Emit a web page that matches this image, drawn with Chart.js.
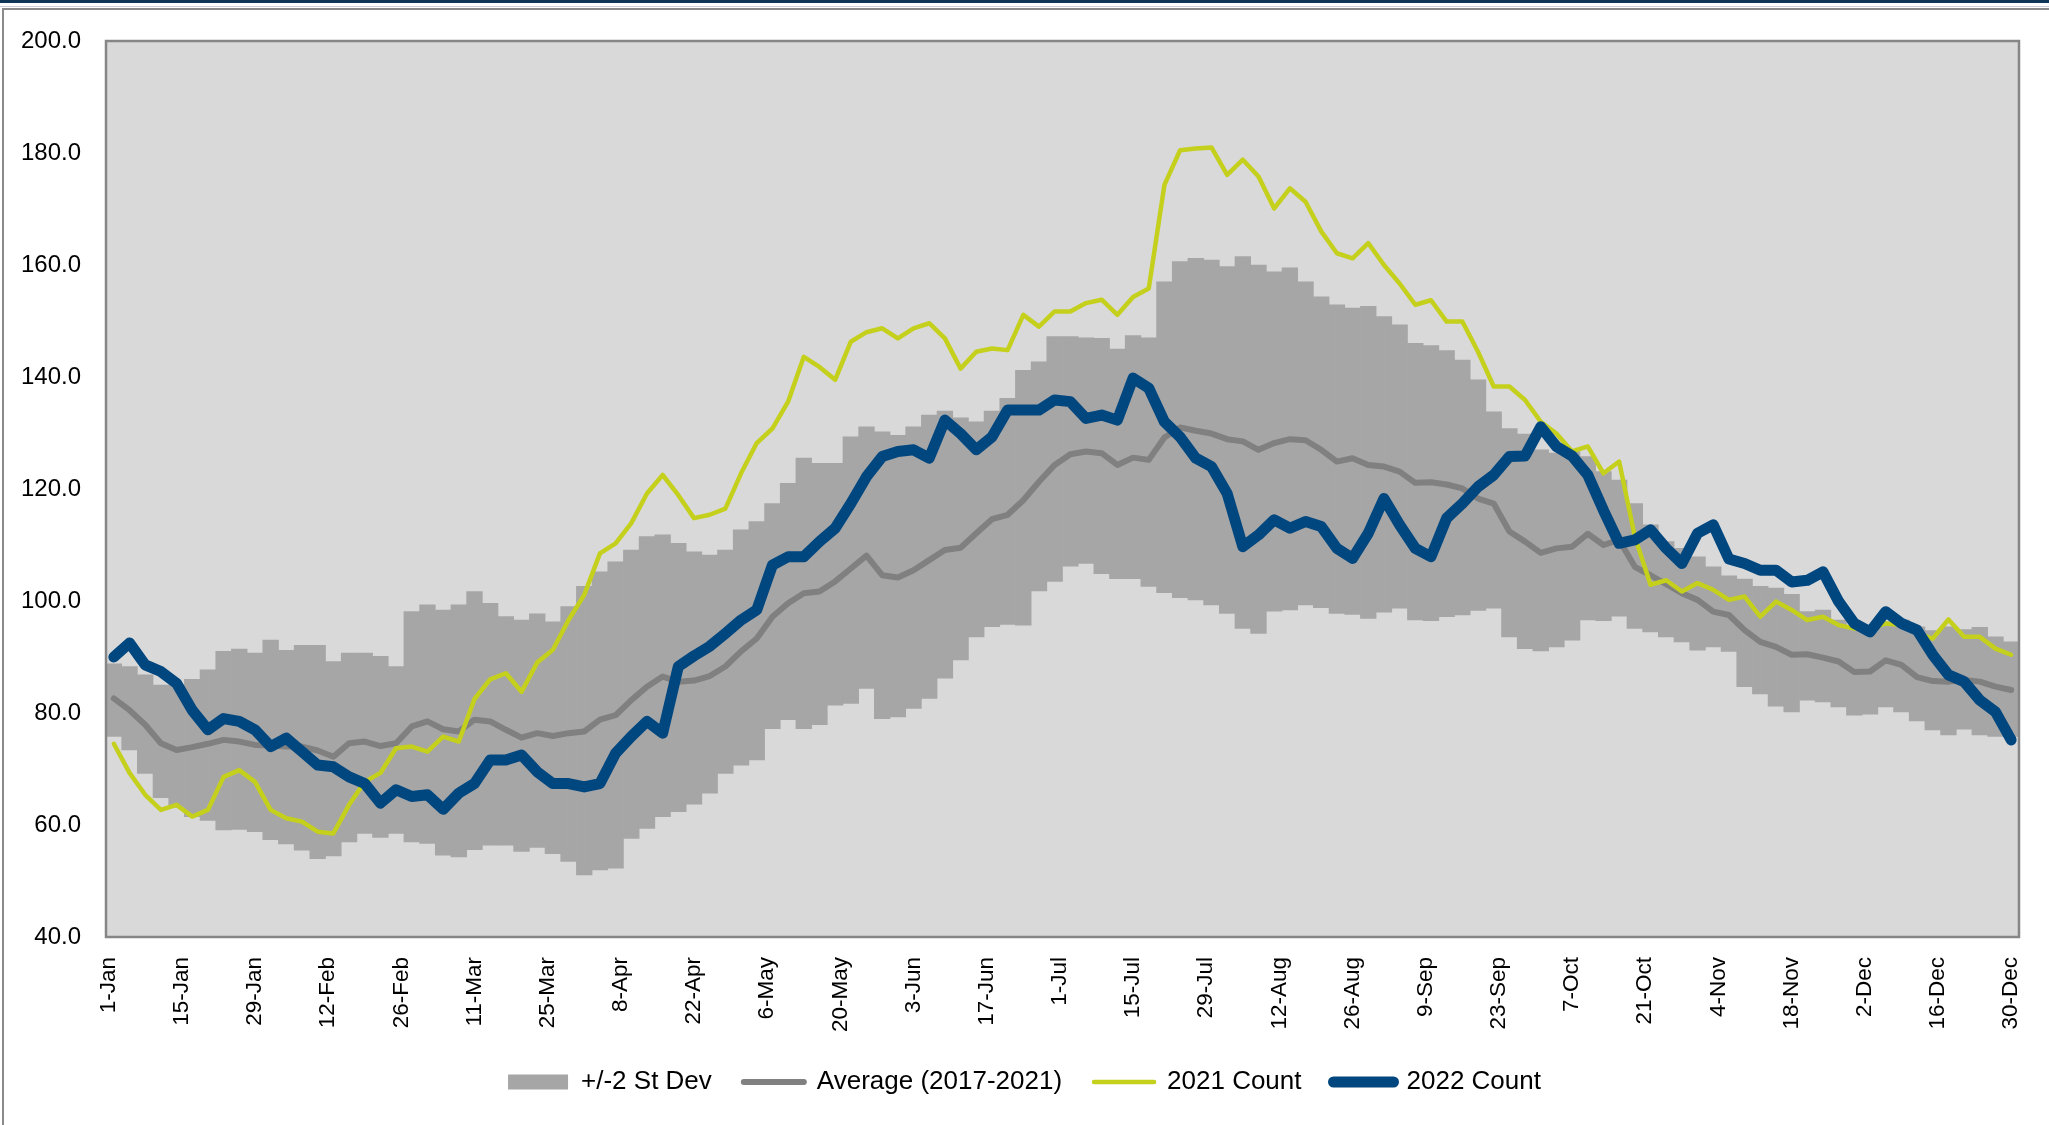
<!DOCTYPE html>
<html>
<head>
<meta charset="utf-8">
<title>Daily count against the 2017-2021 range</title>
<script src="https://cdn.jsdelivr.net/npm/chart.js@4.4.1/dist/chart.umd.min.js"></script>
<style>
  html, body { margin: 0; padding: 0; background: #fff; }
  #wrap { position: relative; width: 2049px; height: 1125px; overflow: hidden; }
  #topbar { position: absolute; left: 0; top: 0; width: 2049px; height: 3px; background: #0e3555; }
  #topline { position: absolute; left: 0; top: 6px; width: 2049px; height: 1px; background: #d0d0d0; }
  #frame { position: absolute; left: 2px; top: 8px; right: 0; bottom: 0;
           border-top: 2px solid #8a8a8a; border-left: 2px solid #8a8a8a; }
  #countChart { position: absolute; left: 0; top: 0; }
</style>
</head>
<body>
<div id="wrap">
  <div id="topbar"></div>
  <div id="topline"></div>
  <div id="frame"></div>
  <canvas id="countChart" width="2049" height="1125"></canvas>
</div>
<script>
const FONT = "'Liberation Sans', Arial, sans-serif";

// day index in a leap-year calendar (0 = 1-Jan), one reading every 3 days
const FIRST_DAY = 1;
const STEP = 3;
const TICK_EVERY = 14;

const TICK_LABELS = ['1-Jan', '15-Jan', '29-Jan', '12-Feb', '26-Feb', '11-Mar', '25-Mar', '8-Apr', '22-Apr',
  '6-May', '20-May', '3-Jun', '17-Jun', '1-Jul', '15-Jul', '29-Jul', '12-Aug', '26-Aug', '9-Sep', '23-Sep',
  '7-Oct', '21-Oct', '4-Nov', '18-Nov', '2-Dec', '16-Dec', '30-Dec'];

const BAND_LOW = [
  75.8, 73.4, 69.2, 64.9, 63.2, 61.5, 60.8, 59.1, 59.2, 58.8, 57.4, 56.6, 55.5, 54.0, 54.5, 57.0, 58.5, 57.8, 58.5, 57.0,
  56.7, 54.6, 54.3, 55.6, 56.4, 56.4, 55.3, 56.0, 54.9, 53.5, 51.1, 52.0, 52.3, 57.6, 59.4, 61.5, 62.4, 63.7, 65.7, 69.2, 70.7, 71.6,
  77.2, 78.8, 77.2, 77.9, 81.4, 81.7, 84.4, 79.0, 79.3, 80.8, 82.6, 86.2, 89.5, 93.6, 95.4, 95.8, 95.7, 101.8, 103.5, 106.2,
  106.7, 104.9, 104.0, 104.0, 102.6, 101.5, 100.6, 100.2, 99.3, 97.8, 95.1, 94.2, 98.2, 98.4, 99.3, 98.8, 97.8, 97.6, 96.9, 98.0, 98.7,
  96.6, 96.5, 97.2, 97.5, 98.3, 98.7, 93.6, 91.5, 91.1, 91.8, 93.0, 96.6, 96.5, 97.3, 95.1, 94.5, 93.6, 92.7, 91.2, 91.8, 91.0,
  84.7, 83.4, 81.2, 80.2, 82.3, 82.0, 81.1, 79.6, 79.8, 81.1, 80.2, 78.6, 77.0, 76.1, 77.1, 76.1, 75.8, 75.8
];

const BAND_HIGH = [
  88.8, 88.3, 86.8, 85.0, 85.0, 86.0, 87.7, 91.0, 91.4, 90.7, 93.0, 91.2, 92.1, 92.1, 89.2, 90.7, 90.7, 90.1, 88.3, 98.1,
  99.3, 98.4, 99.3, 101.7, 99.6, 97.2, 96.6, 97.7, 96.3, 99.0, 102.6, 105.2, 107.0, 109.1, 111.5, 111.8, 110.3, 108.8, 108.2, 109.1, 112.7, 114.2,
  117.4, 121.0, 125.5, 124.6, 124.6, 129.3, 131.1, 130.2, 129.6, 131.1, 133.2, 133.9, 132.7, 132.0, 133.9, 136.2, 141.2, 142.7, 147.2, 147.2,
  147.0, 146.9, 145.0, 147.4, 147.0, 157.0, 160.6, 161.2, 160.9, 159.7, 161.5, 160.0, 158.8, 159.5, 157.0, 154.3, 152.9, 152.3, 152.6, 150.8, 149.3,
  146.0, 145.6, 144.7, 143.0, 139.5, 133.8, 130.8, 129.8, 127.0, 126.4, 126.7, 125.8, 123.1, 121.6, 117.4, 113.6, 110.6, 109.4, 107.9, 106.1, 104.5,
  103.9, 102.6, 102.3, 101.2, 98.1, 98.4, 96.6, 95.4, 94.4, 96.3, 96.6, 95.4, 94.7, 95.4, 94.9, 95.3, 93.6, 92.7
];

const AVERAGE = [
  82.6, 80.5, 77.9, 74.6, 73.4, 73.9, 74.5, 75.2, 74.9, 74.3, 74.2, 74.0, 74.0, 73.3, 72.2, 74.6, 74.9, 74.1, 74.6, 77.6,
  78.5, 77.1, 76.7, 78.8, 78.5, 77.0, 75.6, 76.4, 75.9, 76.4, 76.7, 78.8, 79.6, 82.3, 84.7, 86.5, 85.6, 85.8, 86.6, 88.3, 91.0, 93.3,
  97.2, 99.6, 101.4, 101.7, 103.5, 105.8, 108.1, 104.6, 104.2, 105.5, 107.3, 109.1, 109.5, 112.1, 114.6, 115.4, 118.0, 121.3, 124.3, 126.2,
  126.7, 126.4, 124.3, 125.6, 125.2, 129.2, 131.0, 130.4, 129.9, 128.9, 128.5, 127.0, 128.2, 128.9, 128.7, 127.0, 124.9, 125.5, 124.3, 124.0, 123.1,
  121.1, 121.2, 120.8, 120.1, 118.3, 117.4, 112.4, 110.6, 108.6, 109.4, 109.7, 112.0, 110.0, 110.9, 106.1, 104.6, 103.0, 101.4, 100.2, 98.1, 97.5,
  94.8, 92.7, 91.8, 90.4, 90.5, 89.9, 89.2, 87.3, 87.4, 89.4, 88.6, 86.4, 85.7, 85.6, 85.9, 85.6, 84.7, 84.1
];

const COUNT_2021 = [
  74.5, 69.3, 65.4, 62.7, 63.6, 61.5, 62.7, 68.6, 69.8, 67.7, 62.7, 61.2, 60.6, 58.8, 58.5, 63.6, 67.7, 69.3, 73.7, 74.0,
  73.1, 75.8, 74.9, 82.5, 86.0, 87.1, 83.8, 89.0, 91.3, 96.6, 101.1, 108.5, 110.3, 113.9, 119.2, 122.5, 118.9, 114.8, 115.4, 116.5, 122.8, 128.2,
  130.8, 135.6, 143.6, 141.8, 139.5, 146.3, 148.0, 148.7, 146.9, 148.7, 149.6, 146.9, 141.5, 144.5, 145.1, 144.8, 151.1, 149.0, 151.7, 151.7,
  153.2, 153.8, 151.1, 154.3, 155.8, 174.3, 180.5, 180.8, 181.0, 176.1, 178.8, 175.8, 170.1, 173.7, 171.3, 166.0, 162.1, 161.2, 163.9, 160.0, 156.7,
  152.9, 153.7, 149.9, 149.9, 144.5, 138.3, 138.3, 135.9, 132.0, 129.9, 126.7, 127.6, 122.8, 124.9, 111.5, 102.9, 103.7, 101.7, 103.2, 102.0, 100.2,
  100.8, 97.2, 99.9, 98.4, 96.6, 97.2, 95.7, 95.1, 95.1, 96.0, 95.7, 94.2, 93.3, 96.7, 93.6, 93.6, 91.5, 90.4
];

const COUNT_2022 = [
  90.0, 92.5, 88.6, 87.4, 85.3, 80.5, 77.0, 79.0, 78.5, 77.0, 74.0, 75.5, 73.1, 70.7, 70.4, 68.6, 67.4, 63.9, 66.3, 65.1,
  65.4, 62.8, 65.7, 67.4, 71.6, 71.6, 72.5, 69.5, 67.4, 67.4, 66.8, 67.4, 72.8, 75.8, 78.5, 76.4, 88.3, 90.2, 91.9, 94.2, 96.6, 98.4,
  106.4, 107.9, 107.9, 110.6, 113.0, 117.4, 122.2, 125.8, 126.7, 127.0, 125.5, 132.3, 129.9, 127.0, 129.3, 134.1, 134.1, 134.1, 135.9, 135.6,
  132.6, 133.2, 132.3, 139.8, 138.0, 132.0, 129.3, 125.5, 124.0, 119.2, 109.7, 111.8, 114.5, 113.0, 114.2, 113.3, 109.4, 107.6, 112.1, 118.3, 113.6,
  109.4, 107.9, 114.8, 117.4, 120.4, 122.5, 125.8, 125.9, 131.1, 127.6, 125.9, 122.5, 116.2, 110.3, 110.9, 112.7, 109.4, 106.7, 112.1, 113.6, 107.5,
  106.7, 105.5, 105.5, 103.4, 103.7, 105.2, 99.9, 96.0, 94.5, 98.1, 96.0, 94.8, 90.4, 86.8, 85.6, 82.3, 80.2, 75.2
];

function dayOf(i) {
  return FIRST_DAY + i * STEP;
}

function points(values) {
  return values.map((y, i) => ({ x: dayOf(i), y }));
}

// grey plot background and frame
const plotFrame = {
  id: 'plotFrame',
  beforeDraw(chart) {
    const { ctx, chartArea: a } = chart;
    ctx.save();
    ctx.fillStyle = '#d9d9d9';
    ctx.fillRect(a.left, a.top, a.right - a.left, a.bottom - a.top);
    ctx.restore();
  },
  afterDraw(chart) {
    const { ctx, chartArea: a } = chart;
    ctx.save();
    ctx.strokeStyle = '#868686';
    ctx.lineWidth = 2.5;
    ctx.strokeRect(a.left, a.top, a.right - a.left, a.bottom - a.top);
    ctx.restore();
  }
};

function legendLabels(chart) {
  const items = Chart.defaults.plugins.legend.labels.generateLabels(chart);
  return items.map(item => {
    const ds = chart.data.datasets[item.datasetIndex];
    const isBand = ds.type === 'bar';
    return Object.assign(item, {
      pointStyle: isBand ? 'rect' : 'line',
      fillStyle: isBand ? ds.backgroundColor : ds.borderColor,
      strokeStyle: isBand ? ds.backgroundColor : ds.borderColor,
      lineWidth: isBand ? 0 : ds.borderWidth,
      lineCap: 'round'
    });
  });
}

new Chart(document.getElementById('countChart'), {
  type: 'bar',
  data: {
    datasets: [
      {
        type: 'bar',
        label: '+/-2 St Dev',
        data: BAND_LOW.map((lo, i) => ({ x: dayOf(i), y: [lo, BAND_HIGH[i]] })),
        backgroundColor: '#a6a6a6',
        borderWidth: 0,
        barPercentage: 1,
        categoryPercentage: 1,
        order: 4
      },
      {
        type: 'line',
        label: 'Average (2017-2021)',
        data: points(AVERAGE),
        borderColor: '#808080',
        borderWidth: 6,
        borderJoinStyle: 'round',
        borderCapStyle: 'round',
        pointRadius: 0,
        tension: 0,
        order: 3
      },
      {
        type: 'line',
        label: '2021 Count',
        data: points(COUNT_2021),
        borderColor: '#c4d01c',
        borderWidth: 4.5,
        borderJoinStyle: 'round',
        borderCapStyle: 'round',
        pointRadius: 0,
        tension: 0,
        order: 2
      },
      {
        type: 'line',
        label: '2022 Count',
        data: points(COUNT_2022),
        borderColor: '#00467f',
        borderWidth: 11,
        borderJoinStyle: 'round',
        borderCapStyle: 'round',
        pointRadius: 0,
        tension: 0,
        order: 1
      }
    ]
  },
  options: {
    responsive: false,
    animation: false,
    devicePixelRatio: 1,
    layout: { padding: { left: 0, right: 0, top: 41, bottom: 20 } },
    plugins: {
      tooltip: { enabled: false },
      legend: {
        position: 'bottom',
        reverse: true,
        labels: {
          usePointStyle: true,
          pointStyleWidth: 60,
          boxHeight: 15,
          padding: 32,
          color: '#000',
          font: { family: FONT, size: 26 },
          generateLabels: legendLabels
        }
      }
    },
    scales: {
      x: {
        type: 'linear',
        min: -0.5,
        max: 365.5,
        offset: false,
        grid: { display: false, drawTicks: false },
        border: { display: false },
        afterBuildTicks: scale => {
          scale.ticks = TICK_LABELS.map((_, i) => ({ value: i * TICK_EVERY }));
        },
        afterFit: scale => {
          scale.height = 100;
          // rotated labels would otherwise push the plot in from the right
          scale.paddingLeft = 0;
          scale.paddingRight = 0;
        },
        ticks: {
          autoSkip: false,
          minRotation: 90,
          maxRotation: 90,
          padding: 20,
          color: '#000',
          font: { family: FONT, size: 22.5 },
          callback: (v, i) => TICK_LABELS[i]
        }
      },
      y: {
        min: 40,
        max: 200,
        grid: { display: false, drawTicks: false },
        border: { display: false },
        afterFit: scale => { scale.width = 106; },
        ticks: {
          stepSize: 20,
          padding: 25,
          color: '#000',
          font: { family: FONT, size: 24 },
          callback: v => v.toFixed(1)
        }
      },
      yPad: {
        position: 'right',
        grid: { display: false, drawTicks: false },
        border: { display: false },
        ticks: { display: false },
        afterFit: scale => { scale.width = 30; }
      }
    }
  },
  plugins: [plotFrame]
});
</script>
</body>
</html>
